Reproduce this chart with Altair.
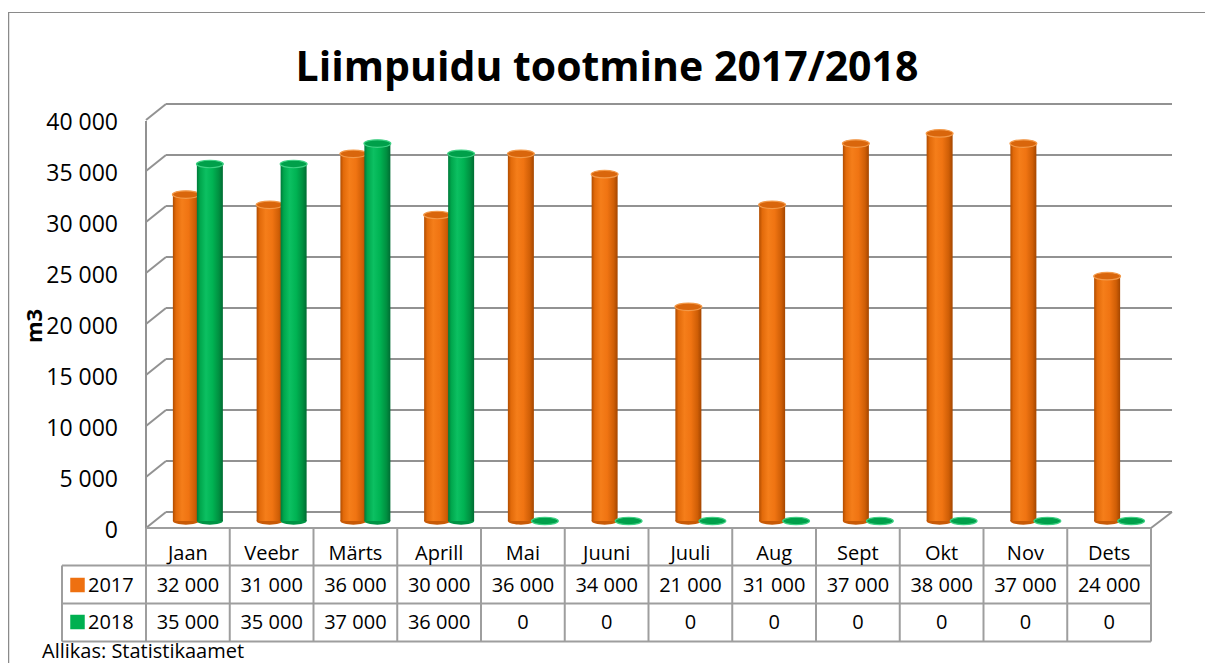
import altair as alt
import pandas as pd

# ---------------- data ----------------
title_text = "Liimpuidu tootmine 2017/2018"
source_text = "Allikas: Statistikaamet"
y_title = "m3"
months = ["Jaan", "Veebr", "Märts", "Aprill", "Mai", "Juuni", "Juuli",
          "Aug", "Sept", "Okt", "Nov", "Dets"]
series_names = ["2017", "2018"]
v2017 = [32000, 31000, 36000, 30000, 36000, 34000, 21000, 31000, 37000, 38000, 37000, 24000]
v2018 = [35000, 35000, 37000, 36000, 0, 0, 0, 0, 0, 0, 0, 0]
y_ticks = [0, 5000, 10000, 15000, 20000, 25000, 30000, 35000, 40000]


def fmt(v):
    return f"{v:,}".replace(",", " ")


df17 = pd.DataFrame({"month": months, "value": v2017, "zero": [0] * len(months),
                     "label": [fmt(v) for v in v2017]})
df18 = pd.DataFrame({"month": months, "value": v2018, "zero": [0] * len(months),
                     "label": [fmt(v) for v in v2018]})
ticks_df = pd.DataFrame({"v": y_ticks, "label": [fmt(v) for v in y_ticks]})

FONT = "Open Sans"
GRID = "#929292"
TABLE = "#9e9e9e"

xscale = alt.Scale(domain=months, range=[138, 1143], paddingInner=0, paddingOuter=0)
yscale = alt.Scale(domain=[0, 40000], range=[513, 105], nice=False, zero=True)

X = alt.X("month:N", scale=xscale, axis=None, sort=months)

ELLIPSE = "M-1,0A1,0.28,0,1,0,1,0A1,0.28,0,1,0,-1,0Z"

def grad(stops):
    return alt.Gradient(gradient="linear", x1=0, x2=1, y1=0, y2=0,
                        stops=[alt.GradientStop(offset=o, color=c) for o, c in stops])

orange_grad = grad([(0, "#b04c00"), (0.12, "#e26a0a"), (0.35, "#f57e1a"),
                    (0.6, "#f07412"), (0.85, "#cf5e06"), (1, "#a44600")])
green_grad = grad([(0, "#00783a"), (0.12, "#00a64c"), (0.35, "#0cc062"),
                   (0.6, "#00b353"), (0.85, "#008f40"), (1, "#006c33")])

layers = []

# outer frame
frame_df = pd.DataFrame({"k": [0]})
layers.append(alt.Chart(frame_df).mark_rule(color="#8a8a8a", strokeWidth=1.2).encode(
    x=alt.value(0), x2=alt.value(1197), y=alt.value(4.5)))
layers.append(alt.Chart(frame_df).mark_rule(color="#8a8a8a", strokeWidth=1.5).encode(
    x=alt.value(0.5), y=alt.value(4), y2=alt.value(655)))

# back-wall gridlines
Yv = alt.Y("v:Q", scale=yscale, axis=None)
layers.append(alt.Chart(ticks_df).mark_rule(color=GRID, strokeWidth=2, yOffset=-9).encode(
    x=alt.value(158), x2=alt.value(1164), y=Yv))
# side-wall diagonals
layers.append(alt.Chart(ticks_df).mark_rule(color=GRID, strokeWidth=2, yOffset=7, y2Offset=-9).encode(
    x=alt.value(138), x2=alt.value(158), y=Yv, y2=alt.Y2("v:Q")))
# floor right diagonal
layers.append(alt.Chart(ticks_df[ticks_df.v == 0]).mark_rule(color=GRID, strokeWidth=2, yOffset=7, y2Offset=-9).encode(
    x=alt.value(1143), x2=alt.value(1164), y=Yv, y2=alt.Y2("v:Q")))
# front axis line
layers.append(alt.Chart(frame_df).mark_rule(color=GRID, strokeWidth=2).encode(
    x=alt.value(138), y=alt.value(113), y2=alt.value(520)))

# y tick labels
layers.append(alt.Chart(ticks_df).mark_text(font=FONT, fontSize=23, align="right",
                                            baseline="middle", yOffset=10, color="#000").encode(
    x=alt.value(110), y=Yv, text="label:N"))
# y title
layers.append(alt.Chart(pd.DataFrame({"t": [y_title]})).mark_text(
    font=FONT, fontSize=22, fontWeight="bold", angle=270, align="center", baseline="middle",
    color="#000").encode(x=alt.value(27), y=alt.value(318), text="t:N"))

# title
layers.append(alt.Chart(pd.DataFrame({"t": [title_text]})).mark_text(
    font=FONT, fontSize=41, fontWeight="bold", align="center", baseline="alphabetic",
    color="#000").encode(x=alt.value(599), y=alt.value(73), text="t:N"))

# cylinders
Yval = alt.Y("value:Q", scale=yscale, axis=None)
Yzero = alt.Y("zero:Q", scale=yscale, axis=None)
for df, g, base, cap, rim, off in [(df17, orange_grad, "#c85a06", "#d9660c", "#f39a4a", -2),
                                   (df18, green_grad, "#009444", "#00a04a", "#3fd184", 22)]:
    nz = df[df.value > 0]
    layers.append(alt.Chart(nz).mark_point(shape=ELLIPSE, size=676, filled=True, color=base,
                                           strokeWidth=0, opacity=1, xOffset=off).encode(
        x=X, y=Yzero))
    layers.append(alt.Chart(nz).mark_bar(width=26, xOffset=off, color=g).encode(
        x=X, y=Yval, y2=alt.Y2("zero:Q")))
    layers.append(alt.Chart(df).mark_point(shape=ELLIPSE, size=720, filled=True, fill=cap,
                                           stroke=rim, strokeWidth=1.2, opacity=1, xOffset=off).encode(
        x=X, y=Yval))

# data table grid
layers.append(alt.Chart(frame_df).mark_rule(color=TABLE, strokeWidth=2).encode(
    x=alt.value(138), x2=alt.value(1143), y=alt.value(520)))
for yy in [557.5, 595.5, 633.5]:
    layers.append(alt.Chart(frame_df).mark_rule(color=TABLE, strokeWidth=2).encode(
        x=alt.value(54), x2=alt.value(1143), y=alt.value(yy)))
layers.append(alt.Chart(frame_df).mark_rule(color=TABLE, strokeWidth=2).encode(
    x=alt.value(54), y=alt.value(557.5), y2=alt.value(633.5)))
mdf = pd.DataFrame({"month": months})
layers.append(alt.Chart(mdf).mark_rule(color=TABLE, strokeWidth=2).encode(
    x=alt.X("month:N", scale=xscale, axis=None, sort=months, bandPosition=0),
    y=alt.value(520), y2=alt.value(633.5)))
layers.append(alt.Chart(mdf.tail(1)).mark_rule(color=TABLE, strokeWidth=2).encode(
    x=alt.X("month:N", scale=xscale, axis=None, sort=months, bandPosition=1),
    y=alt.value(520), y2=alt.value(633.5)))

# table text
layers.append(alt.Chart(mdf).mark_text(font=FONT, fontSize=20, baseline="alphabetic", color="#000").encode(
    x=X, y=alt.value(552), text="month:N"))
layers.append(alt.Chart(df17).mark_text(font=FONT, fontSize=20, baseline="alphabetic", color="#000").encode(
    x=X, y=alt.value(584), text="label:N"))
layers.append(alt.Chart(df18).mark_text(font=FONT, fontSize=20, baseline="alphabetic", color="#000").encode(
    x=X, y=alt.value(621), text="label:N"))

# legend keys in table
for name, col, yb in [(series_names[0], "#ee7010", 584), (series_names[1], "#00b050", 621)]:
    d = pd.DataFrame({"s": [name]})
    layers.append(alt.Chart(d).mark_square(size=210, color=col, opacity=1).encode(
        x=alt.value(69.5), y=alt.value(yb - 7)))
    layers.append(alt.Chart(d).mark_text(font=FONT, fontSize=20, align="left", baseline="alphabetic",
                                         color="#000").encode(
        x=alt.value(80), y=alt.value(yb), text="s:N"))

# source
layers.append(alt.Chart(pd.DataFrame({"t": [source_text]})).mark_text(
    font=FONT, fontSize=20, align="left", baseline="alphabetic", color="#000").encode(
    x=alt.value(34), y=alt.value(649.5), text="t:N"))

chart = alt.layer(*layers).properties(
    width=1197, height=655, padding=0,
    autosize=alt.AutoSizeParams(type="none"),
    background="white",
).configure_view(stroke=None)

chart.save("out.html", embed_options={"renderer": "svg", "actions": False})
